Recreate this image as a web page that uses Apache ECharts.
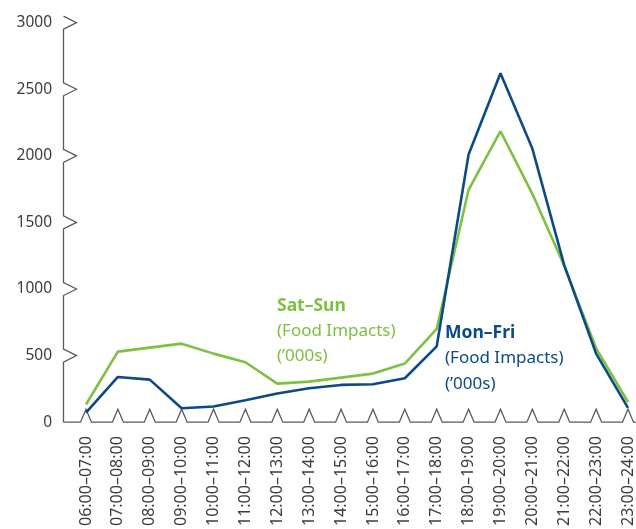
<!DOCTYPE html>
<html><head><meta charset="utf-8">
<script src="https://cdn.jsdelivr.net/npm/echarts@6/dist/echarts.min.js"></script>
<style>html,body{margin:0;padding:0;background:#fff}#c{width:636px;height:529px}</style>
</head><body><div id="c"></div>
<script>
var categories = ['06:00–07:00','07:00–08:00','08:00–09:00','09:00–10:00','10:00–11:00','11:00–12:00','12:00–13:00','13:00–14:00','14:00–15:00','15:00–16:00','16:00–17:00','17:00–18:00','18:00–19:00','19:00–20:00','20:00–21:00','21:00–22:00','22:00–23:00','23:00–24:00'];
var monFri = [72, 340, 320, 105, 118, 165, 215, 255, 280, 285, 330, 570, 2010, 2620, 2055, 1180, 515, 108];
var satSun = [133, 530, 560, 590, 515, 450, 290, 305, 335, 365, 440, 700, 1745, 2185, 1715, 1175, 555, 152];
var yTicks = [0, 500, 1000, 1500, 2000, 2500, 3000];

var AXIS = '#5a5a5a';
var GREEN = '#7cc142';
var BLUE = '#0a4a86';
var FONT = 'Noto Sans';

var chart = echarts.init(document.getElementById('c'));
chart.setOption({
  animation: false,
  grid: {left: 86, right: 7, top: 22.7, bottom: 101.5, containLabel: false},
  xAxis: {
    type: 'category', data: categories, boundaryGap: false,
    axisLine: {show: false}, axisTick: {show: false}, splitLine: {show: false},
    axisLabel: {rotate: 90, margin: 14, interval: 0, color: '#3c3c3c', fontSize: 16, fontFamily: FONT}
  },
  yAxis: {
    type: 'value', min: 0, max: 3000, interval: 500,
    axisLine: {show: false}, axisTick: {show: false}, splitLine: {show: false},
    axisLabel: {margin: 34, color: '#3c3c3c', fontSize: 15.5, fontFamily: FONT,
      formatter: function (v) { return String(v); }}
  },
  series: [
    {
      type: 'custom', silent: true, clip: false, z: 1,
      data: [[0, 0]],
      renderItem: function (params, api) {
        var origin = api.coord([0, 0]);
        var x0 = origin[0] - 22.5, y0 = origin[1];
        var yp = [[x0, y0]];
        for (var i = 1; i < yTicks.length; i++) {
          var yt = api.coord([0, yTicks[i]])[1];
          yp.push([x0, yt + 6.5], [x0 + 13, yt], [x0, yt - 6.5]);
        }
        var xp = [[x0, y0]];
        for (var j = 0; j < categories.length; j++) {
          var cx = api.coord([j, 0])[0];
          xp.push([cx - 5.5, y0], [cx, y0 - 13], [cx + 5.5, y0]);
        }
        xp.push([api.getWidth(), y0]);
        return {type: 'group', children: [
          {type: 'polyline', shape: {points: yp}, style: {stroke: AXIS, fill: null, lineWidth: 1.3}},
          {type: 'polyline', shape: {points: xp}, style: {stroke: AXIS, fill: null, lineWidth: 1.3}}
        ]};
      }
    },
    {name: 'Sat–Sun', type: 'line', data: satSun, symbol: 'none', z: 3,
     lineStyle: {color: GREEN, width: 2.6}, itemStyle: {color: GREEN}},
    {name: 'Mon–Fri', type: 'line', data: monFri, symbol: 'none', z: 4,
     lineStyle: {color: BLUE, width: 2.6}, itemStyle: {color: BLUE}}
  ],
  graphic: [
    {type: 'text', left: 277, top: 297, style: {
      text: '{b|Sat–Sun}\n{n|(Food Impacts)}\n{n|(’000s)}',
      rich: {
        b: {fontFamily: FONT, fontSize: 17.5, fontWeight: 'bold', fill: GREEN, lineHeight: 25},
        n: {fontFamily: FONT, fontSize: 17, fill: GREEN, lineHeight: 25}
      }
    }},
    {type: 'text', left: 445, top: 324, style: {
      text: '{b|Mon–Fri}\n{n|(Food Impacts)}\n{n|(’000s)}',
      rich: {
        b: {fontFamily: FONT, fontSize: 17.5, fontWeight: 'bold', fill: BLUE, lineHeight: 25.5},
        n: {fontFamily: FONT, fontSize: 17, fill: BLUE, lineHeight: 25.5}
      }
    }}
  ]
});
</script></body></html>
